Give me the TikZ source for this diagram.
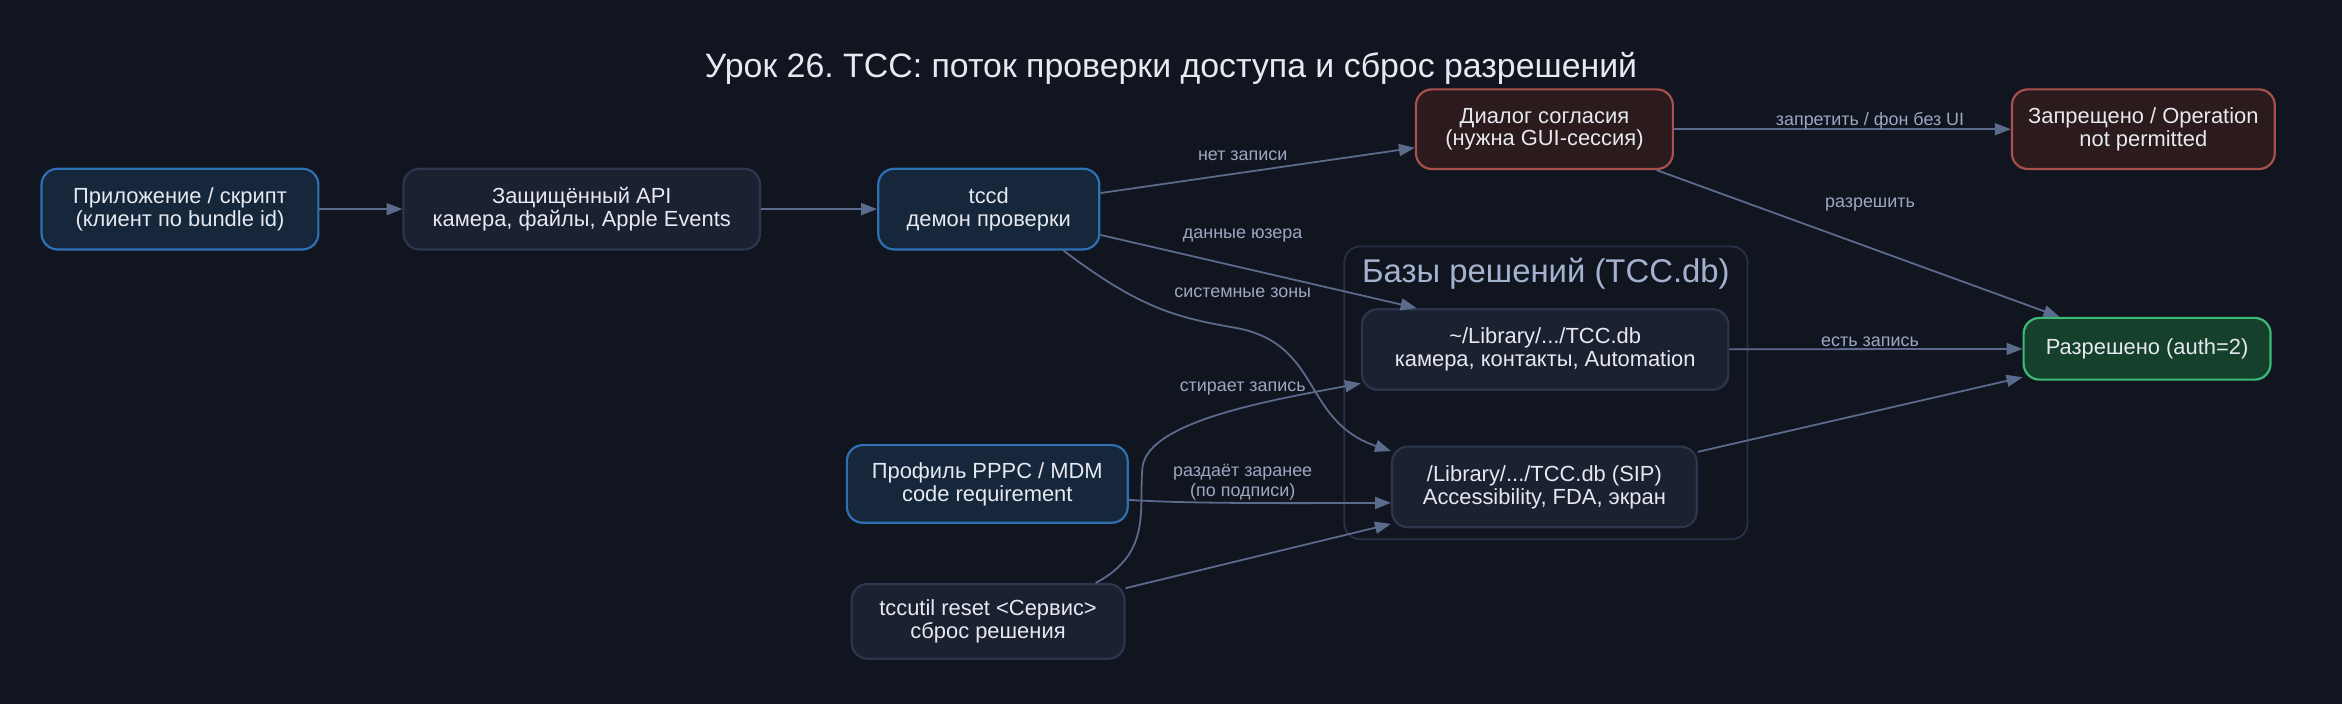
\documentclass[tikz,border=0pt]{standalone}
\usepackage{fontspec}
\setmainfont{Liberation Sans}
\usepackage{xcolor}
\usepackage{tikz}
\usetikzlibrary{arrows.meta}
\usetikzlibrary{positioning}
\frenchspacing

\definecolor{sfondo}{HTML}{111520}
\definecolor{testo}{HTML}{E6E9F0}
\definecolor{freccia}{HTML}{5B6B8C}
\definecolor{etich}{HTML}{9CA8C2}
\definecolor{bluF}{HTML}{16263B}
\definecolor{bluB}{HTML}{2F70B5}
\definecolor{grigioF}{HTML}{1C2132}
\definecolor{grigioB}{HTML}{2C364D}
\definecolor{rossoF}{HTML}{2B1B1C}
\definecolor{rossoB}{HTML}{A8504B}
\definecolor{verdeF}{HTML}{15402C}
\definecolor{verdeB}{HTML}{3DBA76}
\definecolor{gruppoB}{HTML}{283149}
\definecolor{gruppoT}{HTML}{A3B3CF}

\begin{document}
\begin{tikzpicture}[x=0.75pt,y=-0.75pt,
    box/.style={draw, rounded corners=8pt, line width=1.1pt, align=center, text=testo,
      font=\fontsize{11}{11.5}\selectfont, inner sep=0pt, minimum height=40.5pt},
    blu/.style={box, fill=bluF, draw=bluB},
    grigio/.style={box, fill=grigioF, draw=grigioB},
    rosso/.style={box, fill=rossoF, draw=rossoB},
    verde/.style={box, fill=verdeF, draw=verdeB},
    lbl/.style={text=etich, font=\fontsize{9}{10}\selectfont, align=center, inner sep=1pt},
    conn/.style={draw=freccia, line width=0.9pt, -{Triangle[length=8pt,width=6pt]}}]
        \fill[sfondo] (0,0) rectangle (1568,471);
        \useasboundingbox (0,0) rectangle (1568,471);
        \node[text=testo, font=\fontsize{17}{19}\selectfont] (titolo) at (784,46) {Урок 26. TCC: поток проверки доступа и сброс разрешений};

        % Gruppo delle basi
        \node[draw=gruppoB, line width=0.9pt, rounded corners=8pt, minimum width=202.5pt, minimum height=147pt] (basi) at (1035,263) {};
        \node[text=gruppoT, font=\fontsize{16.5}{18}\selectfont] (basiT) at (1035,183) {Базы решений (TCC.db)};

        % Nodi
        \node[blu, minimum width=139pt] (app) at (120.5,140) {Приложение / скрипт\\(клиент по bundle id)};
        \node[grigio, minimum width=179pt] (api) at (389.5,140) {Защищённый API\\камера, файлы, Apple Events};
        \node[blu, minimum width=111pt] (tccd) at (662,140) {tccd\\демон проверки};
        \node[rosso, minimum width=129pt, minimum height=40pt] (dialogo) at (1034,86.5) {Диалог согласия\\(нужна GUI-сессия)};
        \node[rosso, minimum width=132pt, minimum height=40pt] (negato) at (1435,86.5) {Запрещено / Operation\\not permitted};
        \node[verde, minimum width=124pt, minimum height=31pt] (ok) at (1437.5,233.5) {Разрешено (auth=2)};
        \node[grigio, minimum width=184pt] (userdb) at (1034.5,234) {\textasciitilde/Library/.../TCC.db\\камера, контакты, Automation};
        \node[grigio, minimum width=153pt] (sysdb) at (1034,326) {/Library/.../TCC.db (SIP)\\Accessibility, FDA, экран};
        \node[blu, minimum width=141pt, minimum height=39pt] (mdm) at (661,324) {Профиль PPPC / MDM\\code requirement};
        \node[grigio, minimum width=137pt, minimum height=37.5pt] (reset) at (661.5,416) {tccutil reset <Сервис>\\сброс решения};

        % Frecce
        \draw[conn] (app) -- (api);
        \draw[conn] (api) -- (tccd);
        \draw[conn] (tccd) -- (dialogo);
        \draw[conn] (dialogo) -- (negato);
        \draw[conn] (dialogo) -- (ok);
        \draw[conn] (tccd) -- ([xshift=28pt]userdb.north west);
        \draw[conn] ([xshift=37.5pt]tccd.south) .. controls (765,208) and (790,213) .. (830,220)
            .. controls (885,232) and (872,282) .. ([yshift=18pt]sysdb.west);
        \draw[conn] (userdb) -- (ok);
        \draw[conn] (sysdb) -- (ok);
        \draw[conn] ([yshift=-8pt]mdm.east) .. controls (790,337) and (850,337) .. ([yshift=-8pt]sysdb.west);
        \draw[conn] ([xshift=-15pt]reset.north east) .. controls (772,370) and (762,340) .. (765,312)
            .. controls (770,282) and (850,268) .. ([yshift=-17pt]userdb.west);
        \draw[conn] (reset) -- (sysdb);

        % Etichette
        \node[lbl] (lNo) at (832,104) {нет записи};
        \node[lbl] (lUser) at (832,158) {данные юзера};
        \node[lbl] (lSys) at (832,196) {системные зоны};
        \node[lbl] (lReset) at (832,260) {стирает запись};
        \node[lbl] (lMdm) at (832,323) {раздаёт заранее\\(по подписи)};
        \node[lbl] (lNeg) at (1252,81) {запретить / фон без UI};
        \node[lbl] (lSi) at (1252,137) {разрешить};
        \node[lbl] (lRec) at (1252,229) {есть запись};
    \end{tikzpicture}
\end{document}
